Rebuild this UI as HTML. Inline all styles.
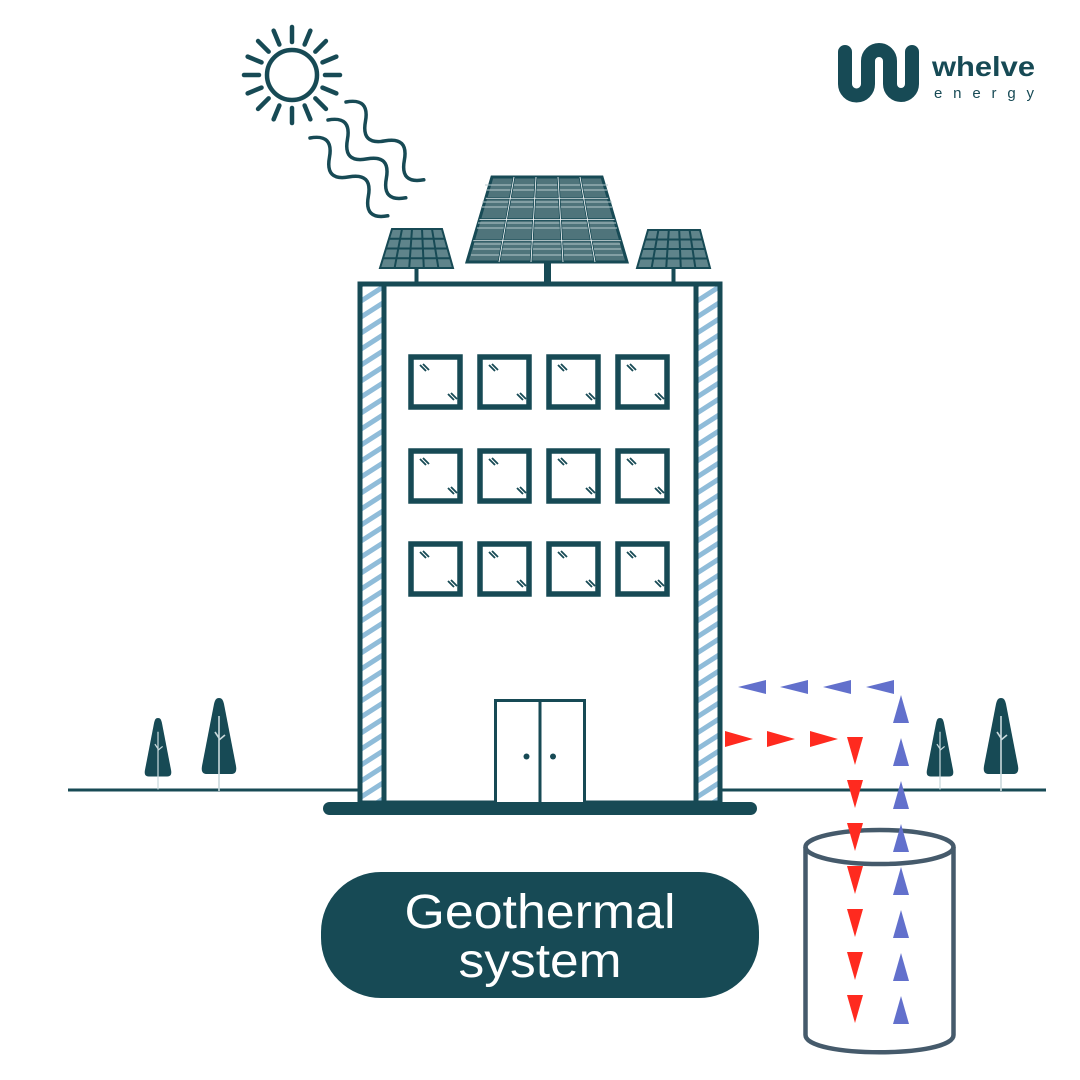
<!DOCTYPE html>
<html><head><meta charset="utf-8"><style>
html,body{margin:0;padding:0;background:#fff;}
svg{display:block;}
</style></head><body>
<svg width="1080" height="1080" viewBox="0 0 1080 1080" xmlns="http://www.w3.org/2000/svg">
<defs>
<pattern id="hatch" patternUnits="userSpaceOnUse" width="24" height="16" patternTransform="translate(0,290)">
<rect width="24" height="16" fill="#fff"/>
<path d="M-2 13 L26 -5 M-2 29 L26 11" stroke="#8fbcd9" stroke-width="5"/>
</pattern>
<g id="win">
<rect x="0" y="0" width="49" height="50" fill="#fff" stroke="#174a55" stroke-width="5.5"/>
<path d="M9 8 l6 6 M12 7 l6 6 M37 37 l6 6 M40 36 l6 6" stroke="#174a55" stroke-width="1.8"/>
</g>
<g id="tree">
<path d="M0 -78 C-3 -78 -4 -76 -5 -72 L-17 -10 C-18 -4 -16 -2 -12 -2 L12 -2 C16 -2 18 -4 17 -10 L5 -72 C4 -76 3 -78 0 -78Z" fill="#174a55"/>
<path d="M0 -60 V15 M0 -38 l-4 -6 M0 -36 l6 -5" stroke="#c9d9dc" stroke-width="1.6" fill="none"/>
</g>
</defs>

<!-- sun -->
<g stroke="#174a55" stroke-width="4.5" stroke-linecap="round" fill="none">
<circle cx="292" cy="75" r="25"/>
<g transform="translate(292,75)">
<line x1="33" y1="0" x2="48" y2="0" transform="rotate(0)"/>
<line x1="33" y1="0" x2="48" y2="0" transform="rotate(22.5)"/>
<line x1="33" y1="0" x2="48" y2="0" transform="rotate(45)"/>
<line x1="33" y1="0" x2="48" y2="0" transform="rotate(67.5)"/>
<line x1="33" y1="0" x2="48" y2="0" transform="rotate(90)"/>
<line x1="33" y1="0" x2="48" y2="0" transform="rotate(112.5)"/>
<line x1="33" y1="0" x2="48" y2="0" transform="rotate(135)"/>
<line x1="33" y1="0" x2="48" y2="0" transform="rotate(157.5)"/>
<line x1="33" y1="0" x2="48" y2="0" transform="rotate(180)"/>
<line x1="33" y1="0" x2="48" y2="0" transform="rotate(202.5)"/>
<line x1="33" y1="0" x2="48" y2="0" transform="rotate(225)"/>
<line x1="33" y1="0" x2="48" y2="0" transform="rotate(247.5)"/>
<line x1="33" y1="0" x2="48" y2="0" transform="rotate(270)"/>
<line x1="33" y1="0" x2="48" y2="0" transform="rotate(292.5)"/>
<line x1="33" y1="0" x2="48" y2="0" transform="rotate(315)"/>
<line x1="33" y1="0" x2="48" y2="0" transform="rotate(337.5)"/>
</g>
</g>
<!-- waves -->
<g stroke="#174a55" stroke-width="3.5" stroke-linecap="round" fill="none">
<path transform="translate(346,102) rotate(45)" d="M0 0 q13.75 -20 27.5 0 t27.5 0 t27.5 0 t27.5 0"/>
<path transform="translate(328,120) rotate(45)" d="M0 0 q13.75 -20 27.5 0 t27.5 0 t27.5 0 t27.5 0"/>
<path transform="translate(310,138) rotate(45)" d="M0 0 q13.75 -20 27.5 0 t27.5 0 t27.5 0 t27.5 0"/>
</g>

<!-- logo -->
<path d="M845 52 V84 a11.5 11.5 0 0 0 23 0 V61 a11 11 0 0 1 22 0 V84 a11 11 0 0 0 22 0 V52" stroke="#174a55" stroke-width="14" stroke-linecap="round" fill="none"/>
<text x="932" y="76" font-family="Liberation Sans, sans-serif" font-weight="bold" font-size="28" fill="#174a55" textLength="103" lengthAdjust="spacingAndGlyphs">whelve</text>
<text x="934" y="98" font-family="Liberation Sans, sans-serif" font-size="15" fill="#174a55" textLength="100" lengthAdjust="spacing">energy</text>

<!-- solar panels -->
<g>
<polygon points="492,177 602,177 627,262 467,262" fill="#4f747b" stroke="#174a55" stroke-width="3"/>
<g stroke="#b7cacd" stroke-width="1">
<path d="M482 202 H612 M482 207 H612 M478 223 H616 M477 228 H617 M474 244 H620 M473 249 H621 M471 255 H623 M485 185 H608 M486 190 H607"/>
</g>
<g stroke="#174a55" stroke-width="2.5">
<path d="M514 177 L499 262 M536 177 L531 262 M558 177 L563 262 M580 177 L595 262"/>
<path d="M485.75 198.25 H608.25 M479.5 219.5 H614.5 M473.25 240.75 H620.75"/>
</g>
<g stroke="#fff" stroke-width="0.8">
<path d="M514 177 L499 262 M536 177 L531 262 M558 177 L563 262 M580 177 L595 262"/>
<path d="M485.75 198.25 H608.25 M479.5 219.5 H614.5 M473.25 240.75 H620.75"/>
</g>
<rect x="544" y="262" width="7" height="22" fill="#174a55"/>

<polygon points="392,229 442,229 453,268 380,268" fill="#5f848b" stroke="#174a55" stroke-width="2"/>
<g stroke="#174a55" stroke-width="2">
<path d="M402 229 L394.6 268 M412 229 L409.2 268 M422 229 L423.8 268 M432 229 L438.4 268"/>
<path d="M389 238.75 H444.75 M386 248.5 H447.5 M383 258.25 H450.25"/>
</g>
<rect x="414.5" y="268" width="4" height="15" fill="#174a55"/>

<polygon points="648,230 700,230 710,268 637,268" fill="#5f848b" stroke="#174a55" stroke-width="2"/>
<g stroke="#174a55" stroke-width="2">
<path d="M658.4 230 L651.6 268 M668.8 230 L666.2 268 M679.2 230 L680.8 268 M689.6 230 L695.4 268"/>
<path d="M645.25 239.5 H702.5 M642.5 249 H705 M639.75 258.5 H707.5"/>
</g>
<rect x="671.5" y="268" width="4" height="15" fill="#174a55"/>
</g>

<!-- ground lines -->
<line x1="68" y1="790" x2="360" y2="790" stroke="#174a55" stroke-width="3"/>
<line x1="720" y1="790" x2="1046" y2="790" stroke="#174a55" stroke-width="3"/>

<!-- trees -->
<use href="#tree" transform="translate(158,778) scale(0.77)"/>
<use href="#tree" transform="translate(219,776)"/>
<use href="#tree" transform="translate(940,778) scale(0.77)"/>
<use href="#tree" transform="translate(1001,776)"/>

<!-- building -->
<rect x="362" y="286" width="20" height="517" fill="url(#hatch)"/>
<rect x="698" y="286" width="20" height="517" fill="url(#hatch)"/>
<rect x="360" y="284" width="360" height="519" fill="none" stroke="#174a55" stroke-width="5"/>
<line x1="384" y1="284" x2="384" y2="803" stroke="#174a55" stroke-width="5"/>
<line x1="696" y1="284" x2="696" y2="803" stroke="#174a55" stroke-width="5"/>
<rect x="323" y="802" width="434" height="13" rx="6.5" fill="#174a55"/>

<!-- windows -->
<use href="#win" x="411" y="357"/><use href="#win" x="480" y="357"/><use href="#win" x="549" y="357"/><use href="#win" x="618" y="357"/>
<use href="#win" x="411" y="451"/><use href="#win" x="480" y="451"/><use href="#win" x="549" y="451"/><use href="#win" x="618" y="451"/>
<use href="#win" x="411" y="544"/><use href="#win" x="480" y="544"/><use href="#win" x="549" y="544"/><use href="#win" x="618" y="544"/>

<!-- door -->
<rect x="495.5" y="700.5" width="89" height="103" fill="#fff" stroke="#174a55" stroke-width="3"/>
<line x1="540" y1="700" x2="540" y2="803" stroke="#174a55" stroke-width="3"/>
<circle cx="526.5" cy="756.5" r="3" fill="#174a55"/>
<circle cx="553" cy="756.5" r="3" fill="#174a55"/>

<!-- label -->
<rect x="321" y="872" width="438" height="126" rx="60" fill="#174a55"/>
<text x="540" y="928" text-anchor="middle" font-family="Liberation Sans, sans-serif" font-size="48" fill="#fff" textLength="271" lengthAdjust="spacingAndGlyphs">Geothermal</text>
<text x="540" y="977" text-anchor="middle" font-family="Liberation Sans, sans-serif" font-size="48" fill="#fff" textLength="163" lengthAdjust="spacingAndGlyphs">system</text>

<!-- cylinder -->
<g fill="none" stroke="#455a6b" stroke-width="4.5">
<ellipse cx="879.5" cy="847" rx="74" ry="17"/>
<path d="M805.5 847 V1035 C805.5 1058 953.5 1058 953.5 1035 V847"/>
</g>

<!-- arrows -->
<g fill="#6270cc">
<polygon points="738,687 766,680 766,694"/>
<polygon points="780,687 808,680 808,694"/>
<polygon points="823,687 851,680 851,694"/>
<polygon points="866,687 894,680 894,694"/>
<polygon points="901,695 893,723 909,723"/>
<polygon points="901,738 893,766 909,766"/>
<polygon points="901,781 893,809 909,809"/>
<polygon points="901,824 893,852 909,852"/>
<polygon points="901,867 893,895 909,895"/>
<polygon points="901,910 893,938 909,938"/>
<polygon points="901,953 893,981 909,981"/>
<polygon points="901,996 893,1024 909,1024"/>
</g>
<g fill="#ff2a1f">
<polygon points="725,731 725,747 753,739"/>
<polygon points="767,731 767,747 795,739"/>
<polygon points="810,731 810,747 838,739"/>
<polygon points="847,737 863,737 855,765"/>
<polygon points="847,780 863,780 855,808"/>
<polygon points="847,823 863,823 855,851"/>
<polygon points="847,866 863,866 855,894"/>
<polygon points="847,909 863,909 855,937"/>
<polygon points="847,952 863,952 855,980"/>
<polygon points="847,995 863,995 855,1023"/>
</g>
</svg>
</body></html>
